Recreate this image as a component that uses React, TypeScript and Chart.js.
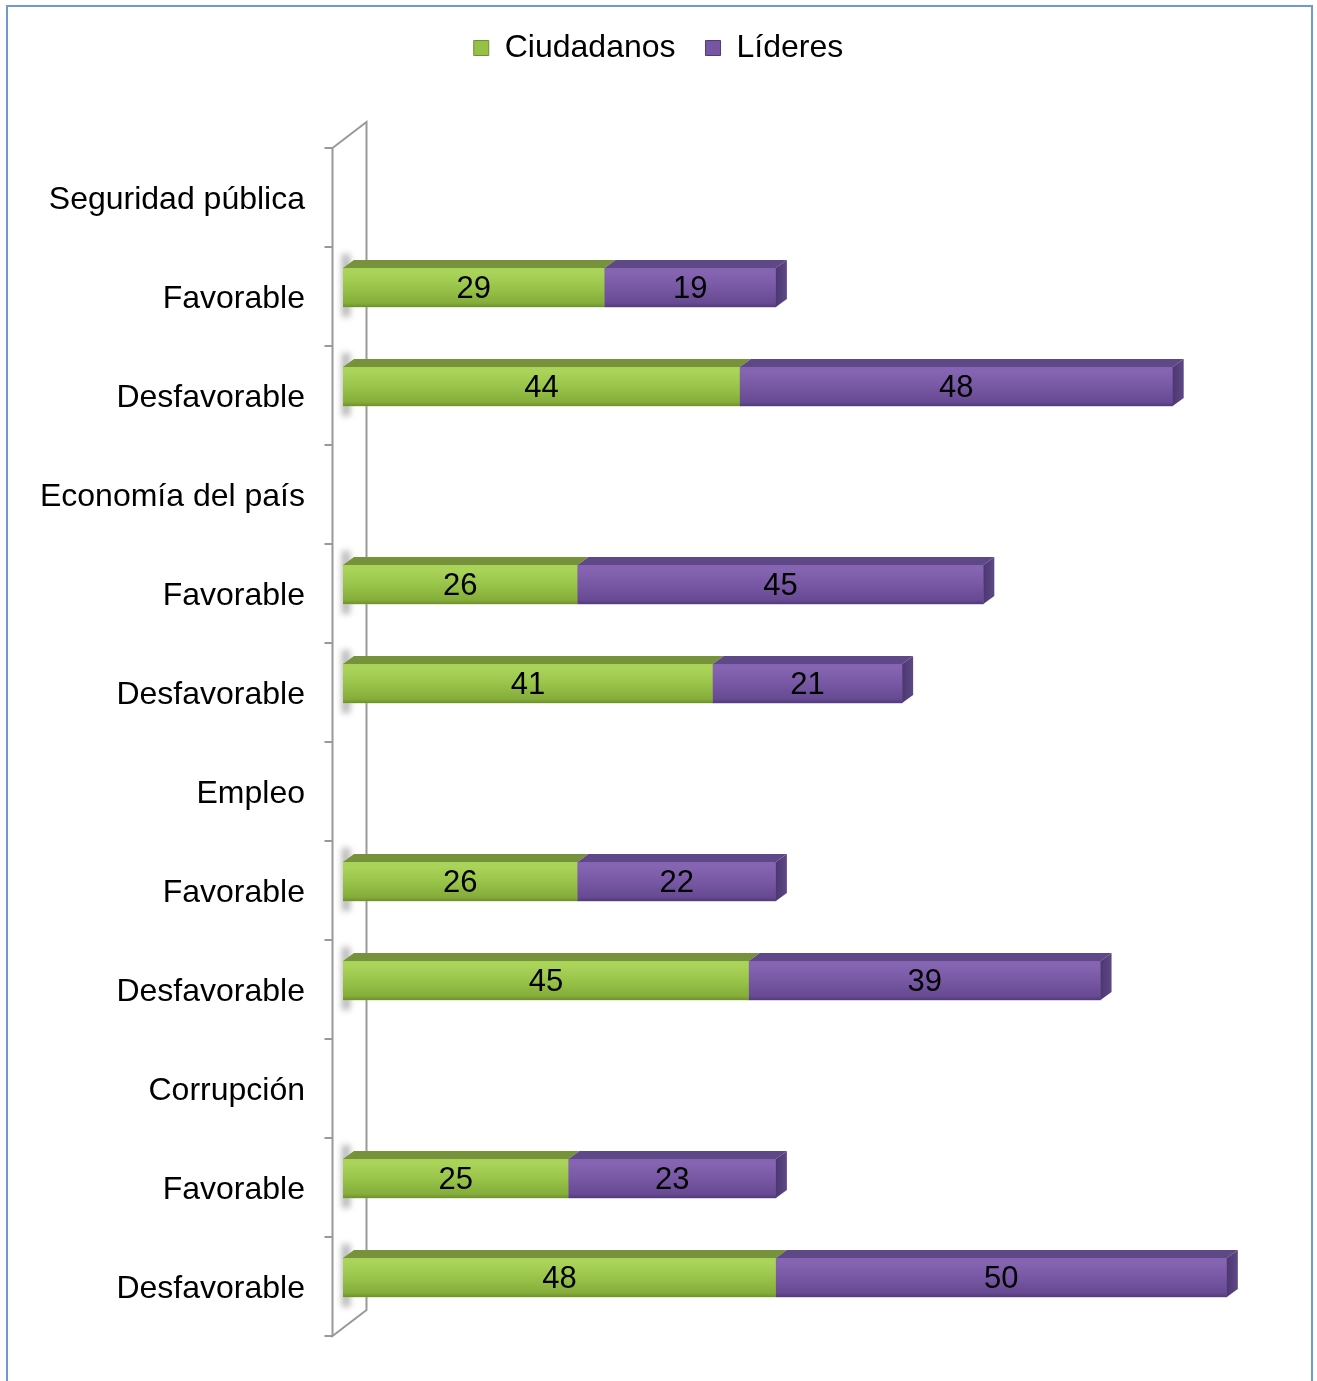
import React, { useEffect, useRef } from 'react';
import { Chart, registerables } from 'chart.js';

Chart.register(...registerables);

const categories = [
  'Seguridad pública', 'Favorable', 'Desfavorable',
  'Economía del país', 'Favorable', 'Desfavorable',
  'Empleo', 'Favorable', 'Desfavorable',
  'Corrupción', 'Favorable', 'Desfavorable',
];
const ciudadanos: (number | null)[] = [null, 29, 44, null, 26, 41, null, 26, 45, null, 25, 48];
const lideres: (number | null)[] = [null, 19, 48, null, 45, 21, null, 22, 39, null, 23, 50];
const seriesNames = ['Ciudadanos', 'Líderes'];
const xMin = 0;
const xMax = 108;

const FONT = '"Liberation Sans", Arial, sans-serif';
const SHIFT = -9;
const DX = 11;
const DY = -8;

const palettes = [
  { base: '#96C146', light: '#AAD35A', mid: '#99C44A', dark: '#85AD3A', edge: '#6F8F30', top: '#76933B', side: '#5F7A2C' },
  { base: '#7656A2', light: '#8564B1', mid: '#7858A4', dark: '#664A92', edge: '#54397A', top: '#5E4887', side: '#4C3870' },
];

const wall3d = {
  id: 'wall3d',
  beforeDatasetsDraw(chart: any) {
    const { ctx, chartArea } = chart;
    const fx = chartArea.left - 10.5;
    const bx = fx + 34;
    const top = chartArea.top;
    const bot = chartArea.bottom;
    ctx.save();
    ctx.strokeStyle = '#999999';
    ctx.lineWidth = 2;
    ctx.beginPath();
    ctx.moveTo(fx, top);
    ctx.lineTo(fx, bot);
    ctx.lineTo(bx, bot - 26);
    ctx.lineTo(bx, top - 26);
    ctx.lineTo(fx, top);
    const n = chart.data.labels.length;
    for (let i = 0; i <= n; i++) {
      const py = Math.round(top + ((bot - top) * i) / n);
      ctx.moveTo(fx - 8, py);
      ctx.lineTo(fx, py);
    }
    ctx.stroke();
    const meta = chart.getDatasetMeta(0);
    meta.data.forEach((el: any, i: number) => {
      if (ciudadanos[i] == null) return;
      const { y, height } = el.getProps(['y', 'height'], true);
      const t = y + SHIFT - height / 2;
      const b = y + SHIFT + height / 2;
      ctx.save();
      ctx.filter = 'blur(3px)';
      ctx.fillStyle = 'rgba(120,120,120,0.55)';
      ctx.fillRect(chartArea.left - 1, t - 14, 8, b - t + 24);
      ctx.restore();
    });
    ctx.restore();
    ctx.save();
    ctx.translate(0, SHIFT);
  },
  afterDatasetsDraw(chart: any) {
    const { ctx } = chart;
    const nDs = chart.data.datasets.length;
    const segs: any[] = [];
    for (let d = 0; d < nDs; d++) {
      const meta = chart.getDatasetMeta(d);
      const vals = chart.data.datasets[d].data;
      meta.data.forEach((el: any, i: number) => {
        if (vals[i] == null) return;
        const { x, y, base, height } = el.getProps(['x', 'y', 'base', 'height'], true);
        const left = Math.min(x, base);
        const right = Math.max(x, base);
        const t = y - height / 2;
        const b = y + height / 2;
        segs.push({ d, i, left, right, t, b, y, v: vals[i] });
      });
    }
    for (const s of segs) {
      const p = palettes[s.d];
      const g = ctx.createLinearGradient(0, s.t, 0, s.b);
      g.addColorStop(0, p.light);
      g.addColorStop(0.12, p.light);
      g.addColorStop(0.5, p.mid);
      g.addColorStop(0.9, p.dark);
      g.addColorStop(1, p.edge);
      ctx.fillStyle = g;
      ctx.fillRect(s.left, s.t, s.right - s.left, s.b - s.t);
      ctx.fillStyle = p.top;
      ctx.beginPath();
      ctx.moveTo(s.left, s.t);
      ctx.lineTo(s.left + DX, s.t + DY);
      ctx.lineTo(s.right + DX, s.t + DY);
      ctx.lineTo(s.right, s.t);
      ctx.closePath();
      ctx.fill();
      if (s.d === nDs - 1) {
        const sg = ctx.createLinearGradient(s.right, 0, s.right + DX, 0);
        sg.addColorStop(0, p.side);
        sg.addColorStop(1, p.top);
        ctx.fillStyle = sg;
        ctx.beginPath();
        ctx.moveTo(s.right, s.t);
        ctx.lineTo(s.right + DX, s.t + DY);
        ctx.lineTo(s.right + DX, s.b + DY);
        ctx.lineTo(s.right, s.b);
        ctx.closePath();
        ctx.fill();
      }
    }
    ctx.fillStyle = '#000';
    ctx.font = `31px ${FONT}`;
    ctx.textAlign = 'center';
    ctx.textBaseline = 'middle';
    for (const s of segs) {
      ctx.fillText(String(s.v), (s.left + s.right) / 2, s.y + 2);
    }
    ctx.restore();
  },
};

export default function App() {
  const ref = useRef<HTMLCanvasElement | null>(null);
  useEffect(() => {
    if (!ref.current) return;
    Chart.defaults.font.family = FONT;
    const chart = new Chart(ref.current, {
      type: 'bar',
      data: {
        labels: categories,
        datasets: [
          { label: seriesNames[0], data: ciudadanos, backgroundColor: palettes[0].base, borderColor: palettes[0].edge, borderWidth: 0, barThickness: 39 },
          { label: seriesNames[1], data: lideres, backgroundColor: palettes[1].base, borderColor: palettes[1].edge, borderWidth: 0, barThickness: 39 },
        ],
      },
      options: {
        indexAxis: 'y',
        animation: false,
        responsive: true,
        maintainAspectRatio: false,
        layout: { padding: { top: 2, left: 0, right: 0, bottom: 45 } },
        plugins: {
          legend: {
            position: 'top',
            labels: {
              font: { size: 32, family: FONT },
              color: '#000',
              boxWidth: 15,
              boxHeight: 15,
              padding: 30,
              generateLabels: (c: any) => {
                const items = Chart.defaults.plugins.legend.labels.generateLabels(c);
                return items.map((it: any) => ({ ...it, lineWidth: 1 }));
              },
            },
          },
          tooltip: { enabled: false },
        },
        scales: {
          x: {
            position: 'top',
            stacked: true,
            min: xMin,
            max: xMax,
            ticks: { display: false },
            grid: { display: false, drawTicks: false },
            border: { display: false },
            afterFit: (s: any) => { s.height = 74; s.paddingLeft = 0; s.paddingRight = 0; },
          },
          y: {
            stacked: true,
            ticks: { autoSkip: false, font: { size: 32, family: FONT }, color: '#000', padding: 38, labelOffset: 3 },
            grid: { display: false, drawTicks: false },
            border: { display: false },
            afterFit: (s: any) => { s.width = 343; s.paddingTop = 0; s.paddingBottom = 0; },
          },
        },
      },
      plugins: [wall3d],
    });
    return () => chart.destroy();
  }, []);

  return (
    <div style={{ position: 'absolute', left: 0, top: 0, width: 1317, height: 1381, overflow: 'hidden', background: '#fff' }}>
      <div style={{ position: 'absolute', left: 6, top: 5, width: 1303, height: 1420, border: '2px solid #7199D0' }} />
      <div style={{ position: 'absolute', left: 0, top: 0, width: 1317, height: 1381 }}>
        <canvas ref={ref} />
      </div>
    </div>
  );
}
